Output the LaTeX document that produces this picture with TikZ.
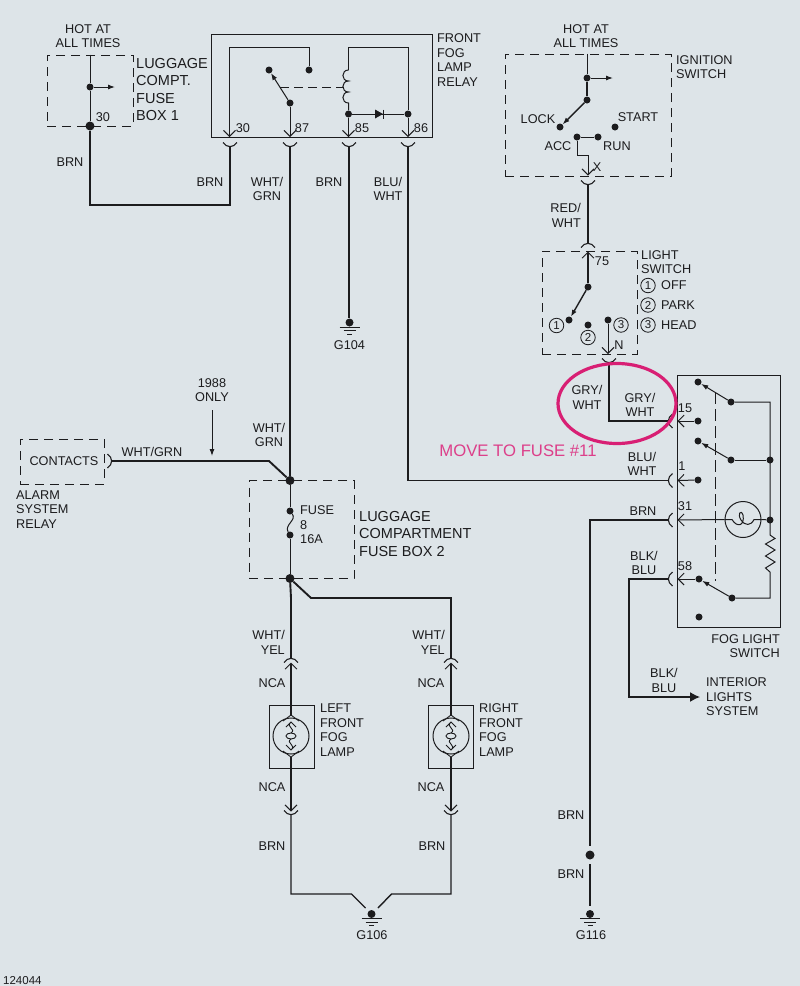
\documentclass[tikz,border=0pt]{standalone}
\usepackage{fontspec}
\setmainfont{Liberation Sans}
\usetikzlibrary{shapes.geometric, arrows.meta, positioning}
\definecolor{paper}{HTML}{DDE4E8}
\definecolor{ink}{HTML}{1C1C1E}
\definecolor{marker}{HTML}{D81F74}
\definecolor{notepink}{HTML}{DC3F8A}
\tikzset{
	lbl/.style={inner sep=0pt, text=ink, align=center, font=\fontsize{12.7}{14.5}\selectfont},
	lblbig/.style={inner sep=0pt, text=ink, align=left, anchor=west, font=\fontsize{14.5}{17.5}\selectfont},
	lblleft/.style={lbl, align=left, anchor=west},
	lblright/.style={lbl, align=right, anchor=east},
	dot/.style={circle, fill=ink, inner sep=0pt, minimum size=7pt},
	bigdot/.style={circle, fill=ink, inner sep=0pt, minimum size=9pt},
	dashbox/.style={rectangle, draw=ink, line width=1pt, dash pattern=on 9pt off 6pt, inner sep=0pt},
	solidbox/.style={rectangle, draw=ink, line width=.9pt, inner sep=0pt},
	numring/.style={circle, draw=ink, line width=.8pt, inner sep=0pt, minimum size=14.5pt, text=ink, font=\fontsize{11.5}{13}\selectfont},
	thinwire/.style={color=ink, line width=1pt},
	midwire/.style={color=ink, line width=1.4pt},
	thickwire/.style={color=ink, line width=1.9pt},
	vee/.style={-{Straight Barb[length=6pt,width=12pt,line width=.9pt]}},
	armtip/.style={-{Latex[length=7pt,width=5pt]}},
	bigtip/.style={-{Latex[length=10pt,width=10pt]}},
	cup/.pic={\draw[ink, line width=1.1pt] (-7,-4.5) .. controls (-3,1) and (3,1) .. (7,-4.5);},
	diode/.pic={\fill[ink] (-4,-4.5) -- (4,0) -- (-4,4.5) -- cycle; \draw[ink, line width=1.2pt] (4.5,-4.5) -- (4.5,4.5);},
	ground/.pic={\draw[ink, line width=1pt] (-10,4.5) -- (10,4.5) (-6,8) -- (6,8) (-2.5,11.5) -- (2.5,11.5);},
	bulbcore/.pic={\draw[ink, line width=.9pt]
		(-8,-15) -- (0,-21) -- (8,-15) (-5,-9) -- (0,-14) -- (5,-9)
		(0,-14) .. controls (-6,-9) and (6,-7) .. (0,-3) (0,3) .. controls (-6,7) and (6,9) .. (0,14)
		(-5,9) -- (0,14) -- (5,9) (-8,15) -- (0,21) -- (8,15);
		\draw[ink, line width=.9pt] (0,0) ellipse [x radius=5, y radius=3];},
}
\begin{document}
\begin{tikzpicture}[x=1pt, y=-1pt]
	\useasboundingbox (0,0) rectangle (800,986);
	\fill[paper] (0,0) rectangle (800,986);

	\node (boxFuseA) [dashbox, minimum width=86, minimum height=71] at (90,90.5) {};
	\node (hotA) [lbl] at (88,36) {HOT AT\\ALL TIMES};
	\node (lblFuseA) [lblbig] at (136,89.5) {LUGGAGE\\COMPT.\\FUSE\\BOX 1};
	\node (dotFuseA) [dot] at (90,87) {};
	\coordinate (outFuseA) at (115,87);
	\node (dotThirtyA) [bigdot] at (90,126) {};
	\node (numThirtyA) [lbl] at (103,117) {30};
	\node (brnA) [lbl] at (70,162) {BRN};
	\path[thinwire] (boxFuseA.north) edge (dotFuseA)
		(dotFuseA) edge (dotThirtyA);
	\path[thinwire, armtip] (dotFuseA) edge (outFuseA);

	\node (boxRelay) [solidbox, minimum width=220.5, minimum height=103.5] at (322,86) {};
	\node (lblRelay) [lblleft] at (437,60) {FRONT\\FOG\\LAMP\\RELAY};
	\coordinate (tip30) at (229.5,137);
	\coordinate (tip87) at (290,137);
	\coordinate (tip85) at (348.5,137);
	\coordinate (tip86) at (408,137);
	\node (num30) [lbl] at (243,128) {30};
	\node (num87) [lbl] at (302,128) {87};
	\node (num85) [lbl] at (362,128) {85};
	\node (num86) [lbl] at (421,128) {86};
	\node (dotNo) [dot] at (309,70) {};
	\node (dotNc) [dot] at (269,70) {};
	\node (dotPole) [dot] at (290,103) {};
	\node (dotCoilA) [dot] at (348.5,114) {};
	\node (dotCoilB) [dot] at (408,114) {};
	\coordinate (armMid) at (280,87);
	\coordinate (coilMid) at (344,87);
	\coordinate (coilTop) at (348.5,70);
	\coordinate (coilBot) at (348.5,103);
	\coordinate (frameA) at (309,47);
	\coordinate (frameB) at (229.5,47);
	\coordinate (frameC) at (348.5,47);
	\coordinate (frameD) at (408,47);
	\draw[thinwire, vee] (dotNo) -- (frameA) -- (frameB) -- (tip30);
	\path[thinwire, armtip] (dotPole) edge (dotNc);
	\path[thinwire, vee] (dotPole) edge (tip87)
		(dotCoilA) edge (tip85)
		(dotCoilB) edge (tip86);
	\draw[thinwire, dash pattern=on 9pt off 5pt] (armMid) -- (coilMid);
	\draw[thinwire] (coilTop) -- (frameC) -- (frameD) -- (dotCoilB);
	\draw[thinwire] (coilTop) .. controls (341,70) and (341,81) .. (348.5,81)
		.. controls (341,81) and (341,92) .. (348.5,92)
		.. controls (341,92) and (341,103) .. (coilBot) -- (dotCoilA);
	\path[thinwire] (dotCoilA) edge (dotCoilB);
	\pic at (379,114) {diode};

	\coordinate (cup30) at (230,147);
	\coordinate (cup87) at (290,147);
	\coordinate (cup85) at (349,147);
	\coordinate (cup86) at (408,147);
	\pic at (cup30) {cup};
	\pic at (cup87) {cup};
	\pic at (cup85) {cup};
	\pic at (cup86) {cup};
	\coordinate (elbowBrn) at (230,205);
	\draw[thickwire] (dotThirtyA) |- (elbowBrn) -- (cup30);
	\node (brnB) [lbl] at (210,182) {BRN};
	\node (whtGrnA) [lbl] at (267,189) {WHT/\\GRN};
	\node (brnC) [lbl] at (329,182) {BRN};
	\node (bluWhtA) [lbl] at (388,189) {BLU/\\WHT};
	\node (gndA) [dot, minimum size=8pt] at (349.5,322.5) {};
	\pic at (gndA) {ground};
	\node (lblGndA) [lbl] at (349.5,345) {G104};
	\coordinate (gndAAbove) at (349,318);
	\path[thickwire] (cup85) edge (gndAAbove);

	\node (boxIgn) [dashbox, minimum width=166, minimum height=122] at (588,115) {};
	\node (hotB) [lbl] at (586,36) {HOT AT\\ALL TIMES};
	\node (lblIgn) [lblleft] at (676,67) {IGNITION\\SWITCH};
	\node (dotIgnA) [dot] at (587,78) {};
	\node (dotIgnB) [dot] at (587,100) {};
	\node (dotLock) [dot] at (560,127) {};
	\node (dotStart) [dot] at (615,127) {};
	\node (dotAcc) [dot] at (577,137) {};
	\node (dotRun) [dot] at (598,137) {};
	\coordinate (outIgn) at (613,78);
	\coordinate (jogA) at (577,155);
	\coordinate (jogB) at (588,155);
	\coordinate (tipIgn) at (588,175.5);
	\node (lblLock) [lbl] at (538,119) {LOCK};
	\node (lblStart) [lbl] at (638,117) {START};
	\node (lblAcc) [lbl] at (558,146) {ACC};
	\node (lblRun) [lbl] at (617,146) {RUN};
	\node (lblX) [lbl] at (597,167) {X};
	\path[thinwire] (boxIgn.north -| dotIgnA) edge (dotIgnA);
	\path[midwire] (dotIgnA) edge (dotIgnB);
	\path[thinwire, armtip] (dotIgnA) edge (outIgn);
	\path[midwire, armtip] (dotIgnB) edge (dotLock);
	\path[thinwire] (dotAcc) edge (dotRun);
	\draw[thinwire, vee] (dotAcc) -- (jogA) -- (jogB) -- (tipIgn);

	\coordinate (cupIgn) at (588,185);
	\coordinate (cupLight) at (588,243);
	\pic at (cupIgn) {cup};
	\pic[rotate=180] at (cupLight) {cup};
	\path[thickwire] (cupIgn) edge (cupLight);
	\node (redWht) [lblright] at (581,215.5) {RED/\\WHT};

	\node (boxLight) [dashbox, minimum width=95, minimum height=103] at (589.5,302.5) {};
	\node (lblLight) [lblleft] at (641,262) {LIGHT\\SWITCH};
	\node (num75) [lbl] at (602,261) {75};
	\coordinate (tipLight) at (588,251.5);
	\node (dotPoleB) [dot] at (588,287) {};
	\node (dotOff) [dot] at (569,320) {};
	\node (dotPark) [dot] at (588,325) {};
	\node (dotHead) [dot] at (608,320) {};
	\coordinate (tipHead) at (608,354);
	\node (ringA) [numring] at (556.5,325.5) {1};
	\node (ringB) [numring] at (588,337.5) {2};
	\node (ringC) [numring] at (621,325) {3};
	\node (lblN) [lbl] at (619,345) {N};
	\node (keyA) [numring] at (648,285.5) {1};
	\node (keyB) [numring] at (648,305) {2};
	\node (keyC) [numring] at (648,325) {3};
	\node (lblOff) [lblleft] at (661,285) {OFF};
	\node (lblPark) [lblleft] at (661,305) {PARK};
	\node (lblHead) [lblleft] at (661,325) {HEAD};
	\path[midwire, vee] (dotPoleB) edge (tipLight);
	\path[midwire, armtip] (dotPoleB) edge (dotOff);
	\path[thinwire, vee] (dotHead) edge (tipHead);

	\coordinate (cupHead) at (609,363);
	\coordinate (cupFifteen) at (668,421);
	\pic at (cupHead) {cup};
	\pic[rotate=-90] at (cupFifteen) {cup};
	\draw[midwire] (cupHead) |- (cupFifteen);
	\node (gryWhtA) [lbl] at (587,397.5) {GRY/\\WHT};
	\node (gryWhtB) [lbl] at (640,405) {GRY/\\WHT};

	\node (boxFog) [solidbox, minimum width=103, minimum height=252] at (728.5,501) {};
	\node (lblFog) [lblright] at (780,646) {FOG LIGHT\\SWITCH};
	\node (num15) [lbl] at (685,408) {15};
	\node (num1) [lbl] at (682,466) {1};
	\node (num31) [lbl] at (685,506) {31};
	\node (num58) [lbl] at (685,566) {58};
	\coordinate (tip15) at (677.5,421);
	\coordinate (tip1) at (677.5,480.5);
	\coordinate (tip31) at (677.5,520);
	\coordinate (tip58) at (677.5,579);
	\node (dotFogA) [dot] at (698,382) {};
	\node (dotFogB) [dot] at (731,402) {};
	\node (dotFogC) [dot] at (698,421) {};
	\node (dotFogD) [dot] at (698,441) {};
	\node (dotFogE) [dot] at (731,460) {};
	\node (dotFogF) [dot] at (770,460) {};
	\node (dotFogG) [dot] at (698,480) {};
	\node (dotFogH) [dot] at (770,520) {};
	\node (dotFogI) [dot] at (699,579) {};
	\node (dotFogJ) [dot] at (732,598) {};
	\node (dotFogK) [dot] at (699,617) {};
	\node (lampFog) [circle, draw=ink, line width=1pt, inner sep=0pt, minimum size=36pt] at (743,519.5) {};
	\coordinate (linkTop) at (715,392);
	\coordinate (linkBot) at (715,581);
	\coordinate (frameE) at (770,402);
	\coordinate (frameF) at (770,598);
	\coordinate (resTop) at (770,535);
	\coordinate (resBot) at (770,572);
	\path[thinwire, armtip] (dotFogB) edge (dotFogA)
		(dotFogE) edge (dotFogD)
		(dotFogJ) edge (dotFogI);
	\path[thinwire, vee] (dotFogC) edge (tip15)
		(dotFogG) edge (tip1)
		(lampFog.west) edge (tip31)
		(dotFogI) edge (tip58);
	\path[thinwire] (dotFogE) edge (dotFogF)
		(lampFog.east) edge (dotFogH);
	\draw[thinwire] (dotFogB) -- (frameE) -- (resTop) -- (775,538.5) -- (765.5,544) -- (775,550) -- (765.5,556) -- (775,562) -- (765.5,568) -- (resBot) -- (frameF) -- (dotFogJ);
	\draw[thinwire] (lampFog.west) -- (732,519.5) .. controls (737,528) and (745,526) .. (743,515) .. controls (741,509) and (737,514) .. (741,520) .. controls (745,526) and (751,526) .. (754,519.5) -- (lampFog.east);
	\draw[thinwire, dash pattern=on 12pt off 5pt] (linkTop) -- (linkBot);

	\coordinate (cupOne) at (668,480.5);
	\coordinate (cupOnethree) at (668,520);
	\coordinate (cupFiveeight) at (668,579);
	\pic[rotate=-90] at (cupOne) {cup};
	\pic[rotate=-90] at (cupOnethree) {cup};
	\pic[rotate=-90] at (cupFiveeight) {cup};
	\draw[thickwire] (cup86) |- (cupOne);
	\node (bluWhtB) [lbl] at (642,464) {BLU/\\WHT};
	\node (brnD) [lbl] at (643,511) {BRN};
	\node (blkBluA) [lbl] at (644,563) {BLK/\\BLU};
	\node (blkBluB) [lbl] at (664,680.5) {BLK/\\BLU};
	\node (lblInterior) [lblleft] at (706,697) {INTERIOR\\LIGHTS\\SYSTEM};
	\coordinate (tipInterior) at (700,697);
	\coordinate (turnInterior) at (629,697);
	\draw[midwire, bigtip] (cupFiveeight) -| (turnInterior) -- (tipInterior);

	\node (dotSplice) [dot, minimum size=9pt] at (590,855) {};
	\node (gndC) [dot, minimum size=8pt] at (590,914) {};
	\pic at (gndC) {ground};
	\node (lblGndC) [lbl] at (591,935) {G116};
	\node (brnE) [lbl] at (571,815) {BRN};
	\node (brnF) [lbl] at (571,874) {BRN};
	\coordinate (spliceAbove) at (590,846);
	\coordinate (spliceBelow) at (590,864);
	\coordinate (gndCAbove) at (590,906);
	\draw[midwire] (cupOnethree) -| (spliceAbove);
	\path[midwire] (spliceBelow) edge (gndCAbove);

	\node (boxContacts) [dashbox, minimum width=84, minimum height=45] at (62,461.5) {};
	\node (lblContacts) [lbl] at (64,461) {CONTACTS};
	\node (lblAlarm) [lblleft] at (16,509.5) {ALARM\\SYSTEM\\RELAY};
	\coordinate (cupContacts) at (112,461);
	\pic[rotate=90] at (cupContacts) {cup};
	\node (whtGrnB) [lbl] at (152,452) {WHT/GRN};
	\node (lblYear) [lbl] at (212,390) {1988\\ONLY};
	\coordinate (yearFrom) at (212,410);
	\coordinate (yearTo) at (212,456);
	\path[thinwire, armtip] (yearFrom) edge (yearTo);
	\node (whtGrnC) [lbl] at (269,435) {WHT/\\GRN};

	\node (boxFuseB) [dashbox, minimum width=105, minimum height=98] at (301.5,529.5) {};
	\node (dotJoinA) [bigdot] at (290,480.5) {};
	\node (dotJoinB) [bigdot] at (290,578.5) {};
	\node (dotFuseTop) [dot] at (290,511) {};
	\node (dotFuseBot) [dot] at (290,535) {};
	\node (lblFuse) [lblleft] at (300,525) {FUSE\\8\\16A};
	\node (lblFuseB) [lblbig] at (359,533.5) {LUGGAGE\\COMPARTMENT\\FUSE BOX 2};
	\coordinate (elbowContacts) at (269,461);
	\draw[thickwire] (cupContacts) -- (elbowContacts) -- (dotJoinA);
	\draw[thickwire] (cup87) -- (dotJoinA);
	\path[thinwire] (dotJoinA) edge (dotFuseTop)
		(dotFuseBot) edge (dotJoinB);
	\draw[thinwire] (dotFuseTop) .. controls (297,520) and (284,525) .. (dotFuseBot);

	\coordinate (cupLampL) at (291,658);
	\coordinate (cupLampR) at (451,658);
	\coordinate (tipLampL) at (291,662.5);
	\coordinate (tipLampR) at (451,662.5);
	\coordinate (branchA) at (311,598);
	\coordinate (branchB) at (451,598);
	\coordinate (branchL) at (291,598);
	\pic[rotate=180] at (cupLampL) {cup};
	\pic[rotate=180] at (cupLampR) {cup};
	\draw[thickwire] (dotJoinB) -- (branchL) -- (cupLampL);
	\draw[thickwire] (dotJoinB) -- (branchA) -- (branchB) -- (cupLampR);
	\node (whtYelL) [lblright] at (285,642.5) {WHT/\\YEL};
	\node (whtYelR) [lblright] at (445,642.5) {WHT/\\YEL};
	\node (ncaA) [lbl] at (272,683) {NCA};
	\node (ncaB) [lbl] at (431,683) {NCA};
	\node (ncaC) [lbl] at (272,787) {NCA};
	\node (ncaD) [lbl] at (431,787) {NCA};

	\node (boxLampL) [solidbox, minimum width=45, minimum height=63] at (291.5,736.5) {};
	\node (boxLampR) [solidbox, minimum width=45, minimum height=63] at (451,736.5) {};
	\node (lampL) [circle, draw=ink, line width=1pt, inner sep=0pt, minimum size=36pt] at (291,736) {};
	\node (lampR) [circle, draw=ink, line width=1pt, inner sep=0pt, minimum size=36pt] at (451,736) {};
	\pic at (lampL) {bulbcore};
	\pic at (lampR) {bulbcore};
	\node (lblLampL) [lblleft] at (320,730) {LEFT\\FRONT\\FOG\\LAMP};
	\node (lblLampR) [lblleft] at (479,730) {RIGHT\\FRONT\\FOG\\LAMP};
	\coordinate (capLampL) at (291,715);
	\coordinate (capLampR) at (451,715);
	\coordinate (baseLampL) at (291,757);
	\coordinate (baseLampR) at (451,757);
	\coordinate (tipLowL) at (291,811.5);
	\coordinate (tipLowR) at (451,811.5);
	\coordinate (cupLowL) at (291,815);
	\coordinate (cupLowR) at (451,815);
	\path[midwire, vee] (capLampL) edge (tipLampL)
		(capLampR) edge (tipLampR)
		(baseLampL) edge (tipLowL)
		(baseLampR) edge (tipLowR);
	\pic at (cupLowL) {cup};
	\pic at (cupLowR) {cup};

	\node (brnG) [lbl] at (272,846) {BRN};
	\node (brnH) [lbl] at (432,846) {BRN};
	\node (gndB) [dot, minimum size=8pt] at (371.5,914) {};
	\pic at (gndB) {ground};
	\node (lblGndB) [lbl] at (372,935) {G106};
	\coordinate (gndLeftA) at (351.5,894);
	\coordinate (gndLeftB) at (365.5,908);
	\coordinate (gndRightA) at (391.5,894);
	\coordinate (gndRightB) at (378,908);
	\draw[midwire] (cupLowL) |- (gndLeftA) -- (gndLeftB);
	\draw[midwire] (cupLowR) |- (gndRightA) -- (gndRightB);

	\node (lblNote) [inner sep=0pt, text=notepink, font=\fontsize{16.7}{18}\selectfont] at (518,451) {MOVE TO FUSE \#11};
	\node (markRing) [ellipse, draw=marker, line width=3.2pt, inner sep=0pt, minimum width=118, minimum height=80] at (617,403.5) {};
	\node (lblCode) [inner sep=0pt, text=ink, anchor=west, font=\fontsize{11.5}{13}\selectfont] at (3,981) {124044};
\end{tikzpicture}
\end{document}
